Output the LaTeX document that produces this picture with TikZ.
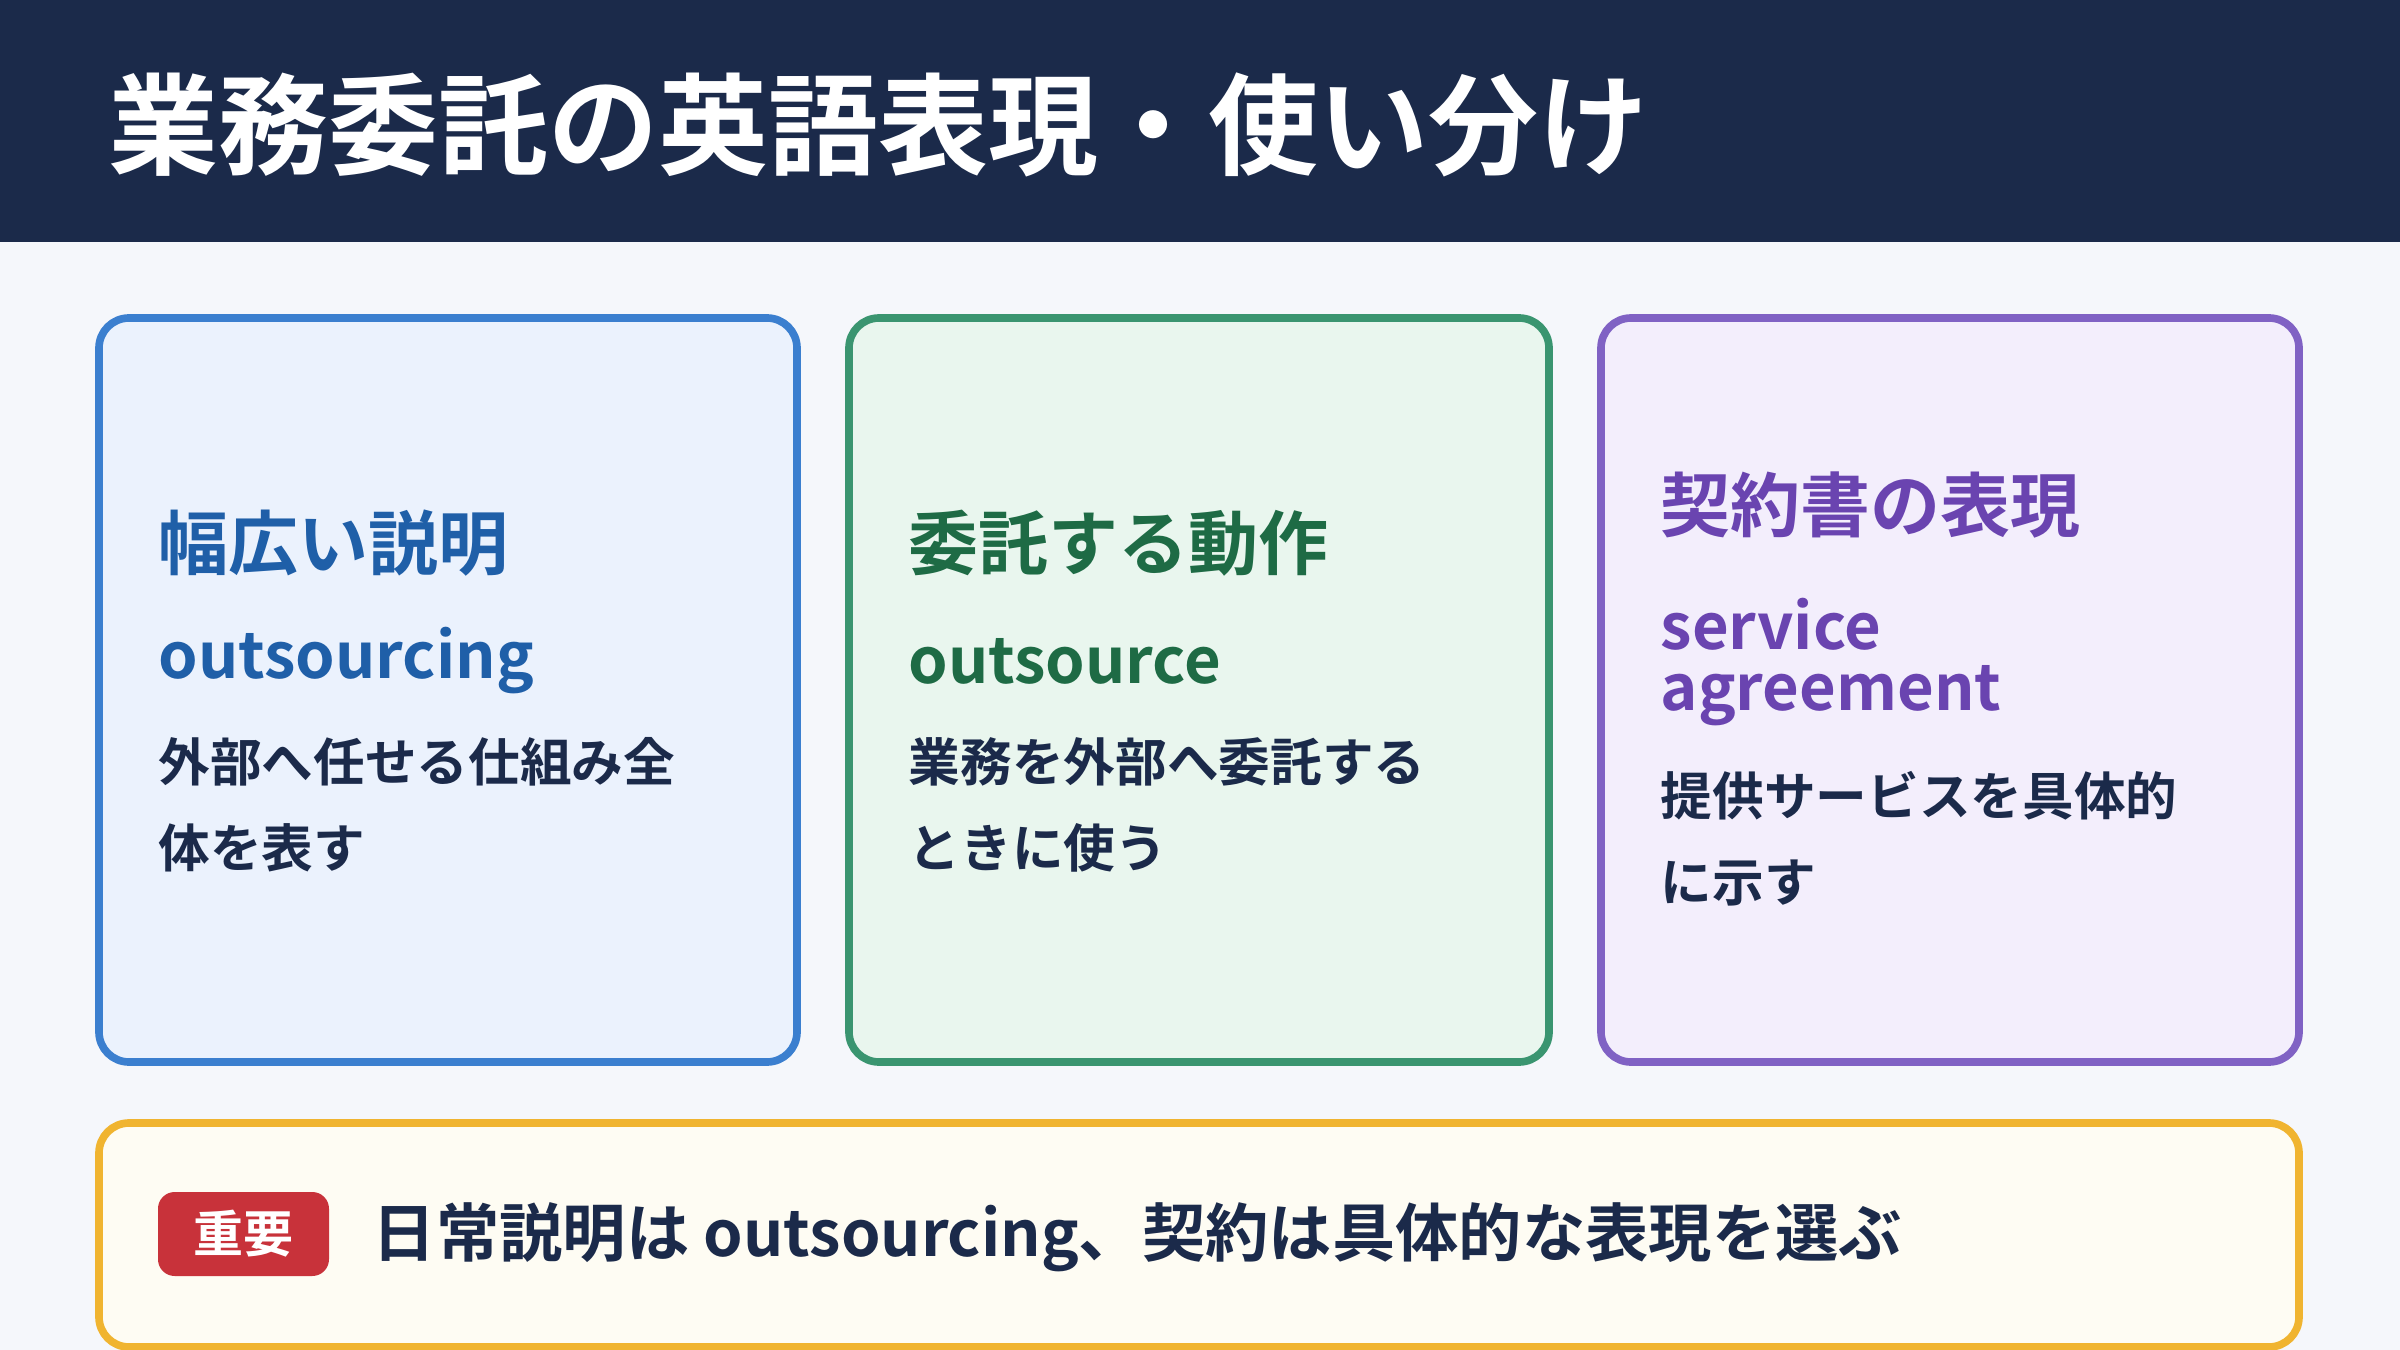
\documentclass[tikz,border=0pt]{standalone}
\usepackage{fontspec}
\setmainfont{Noto Sans CJK JP}[BoldFont={* Bold}]
\definecolor{hdr}{HTML}{1B2A4A}
\definecolor{bg}{HTML}{F5F7FB}
\definecolor{bA}{HTML}{3B7FCF}\definecolor{fA}{HTML}{EBF2FD}\definecolor{tA}{HTML}{1F5FA8}
\definecolor{bB}{HTML}{3A9570}\definecolor{fB}{HTML}{E9F6EE}\definecolor{tB}{HTML}{1E6B45}
\definecolor{bC}{HTML}{8062C4}\definecolor{fC}{HTML}{F3EEFC}\definecolor{tC}{HTML}{6A44B0}
\definecolor{bD}{HTML}{F0B430}\definecolor{fD}{HTML}{FEFCF3}\definecolor{tag}{HTML}{C8323A}
\begin{document}
\begin{tikzpicture}[x=0.3pt,y=-0.3pt,
 card/.style={line width=2.3pt,rounded corners=9pt},
 txt/.style={anchor=west,inner sep=0pt,font=\bfseries},
 head/.style={txt,font=\fontsize{21}{25}\selectfont\bfseries},
 eng/.style={txt,font=\fontsize{19}{22}\selectfont\bfseries},
 desc/.style={txt,text=hdr,font=\fontsize{15.5}{18}\selectfont\bfseries}]
\useasboundingbox (0,0) rectangle (2400,1350);
\fill[bg] (0,0) rectangle (2400,1350);
\fill[hdr] (0,0) rectangle (2400,242);
\node[txt,text=white,font=\fontsize{33}{38}\selectfont\bfseries] (title) at (108,125) {業務委託の英語表現・使い分け};
\draw[card,draw=bA,fill=fA] (99,318) rectangle (797,1062);
\draw[card,draw=bB,fill=fB] (849,318) rectangle (1549,1062);
\draw[card,draw=bC,fill=fC] (1601,318) rectangle (2299,1062);
\draw[card,draw=bD,fill=fD] (99,1123) rectangle (2299,1347);
\node[head,text=tA] (h1) at (158,543) {幅広い説明};
\node[eng,text=tA] (e1) at (158,661) {outsourcing};
\node[desc] (d1a) at (158,762) {外部へ任せる仕組み全};
\node[desc] (d1b) at (158,848) {体を表す};
\node[head,text=tB] (h2) at (908,543) {委託する動作};
\node[eng,text=tB] (e2) at (908,661) {outsource};
\node[desc] (d2a) at (908,762) {業務を外部へ委託する};
\node[desc] (d2b) at (908,848) {ときに使う};
\node[head,text=tC] (h3) at (1660,505) {契約書の表現};
\node[eng,text=tC] (e3a) at (1660,624) {service};
\node[eng,text=tC] (e3b) at (1660,696) {agreement};
\node[desc] (d3a) at (1660,796) {提供サービスを具体的};
\node[desc] (d3b) at (1660,883) {に示す};
\fill[tag,rounded corners=5pt] (158,1192) rectangle (329,1276);
\node[inner sep=0pt,text=white,font=\fontsize{15}{18}\selectfont\bfseries] (tg) at (243.5,1234) {重要};
\node[txt,text=hdr,font=\fontsize{19}{22}\selectfont\bfseries] (bt) at (372,1237) {日常説明は outsourcing、契約は具体的な表現を選ぶ};
\end{tikzpicture}
\end{document}
